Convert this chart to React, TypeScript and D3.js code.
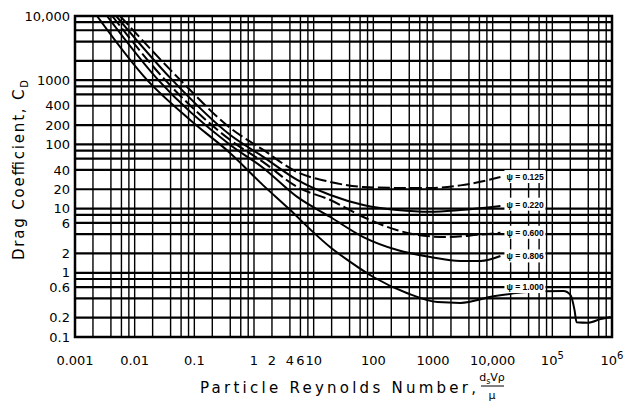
import * as d3 from "d3";

const width = 626;
const height = 408;
const margin = { top: 16, right: 14, bottom: 71, left: 75 };
const innerWidth = width - margin.left - margin.right;
const innerHeight = height - margin.top - margin.bottom;

// axis ticks
const reTicks = [0.001, 0.01, 0.1, 1, 2, 4, 6, 10, 100, 1000, 10000, 1e5, 1e6];
const reTickLabels = ["0.001", "0.01", "0.1", "1", "2", "4", "6", "10", "100", "1000", "10,000", "10^5", "10^6"];
const cdTicks = [10000, 1000, 400, 200, 100, 40, 20, 10, 6, 2, 1, 0.6, 0.2, 0.1];
const cdTickLabels = ["10,000", "1000", "400", "200", "100", "40", "20", "10", "6", "2", "1", "0.6", "0.2", "0.1"];
const gridSteps = [1, 2, 4, 6, 8];

// shape factor curves
const re125 = [0.0057, 0.058, 0.4, 1.43, 5.3, 19, 68, 284, 904, 2884, 13500];
const cd125 = [10000, 1010, 180, 82, 37, 26, 21.7, 21, 21, 23, 31];

const re220 = [0.0049, 0.0425, 0.4, 1.43, 5.3, 19, 68, 253, 904, 2884, 13500];
const cd220 = [10000, 1010, 140, 64, 28, 16.3, 11.4, 9.5, 8.9, 9.5, 11];

const re600 = [0.0042, 0.0324, 0.4, 1.43, 5.3, 19, 68, 253, 547, 1745, 5560, 13500];
const cd600 = [10000, 1010, 117, 53, 21.7, 13.6, 7.4, 4.6, 3.9, 3.6, 3.9, 4.2];

const re806 = [0.00344, 0.0247, 0.4, 1.43, 5.3, 19, 68, 253, 904, 2884, 6240, 13500];
const cd806 = [10000, 1010, 98, 43, 15.2, 7.4, 3.6, 2.26, 1.76, 1.53, 1.53, 1.83];

const re1000 = [0.00234, 0.0161, 0.085, 0.4, 1.43, 4.05, 9.8, 19, 41, 100, 372, 1186, 2884, 10300, 38400, 154000, 202000, 236000, 255000, 390000, 644000, 948000];
const cd1000 = [10000, 1010, 240, 73, 23, 9.5, 4.3, 2.5, 1.48, 0.86, 0.48, 0.35, 0.34, 0.43, 0.5, 0.52, 0.45, 0.26, 0.17, 0.167, 0.19, 0.205];

const psiLabels = ["0.125", "0.220", "0.600", "0.806", "1.000"];
const psiLabelCd = [31, 11.5, 4.2, 1.8, 0.6];
const psiLabelRe = 13500;

const series = [
  { re: re125, cd: cd125, dashed: true },
  { re: re220, cd: cd220, dashed: false },
  { re: re600, cd: cd600, dashed: true },
  { re: re806, cd: cd806, dashed: false },
  { re: re1000, cd: cd1000, dashed: false },
];

const font = "'DejaVu Sans', sans-serif";

const xScale = d3.scaleLog().domain([0.001, 1e6]).range([0, innerWidth]);
const yScale = d3.scaleLog().domain([0.1, 10000]).range([innerHeight, 0]);

const lineGen = d3
  .line<[number, number]>()
  .x((d) => xScale(d[0]))
  .y((d) => yScale(d[1]))
  .curve(d3.curveMonotoneX);

const xGrid: number[] = [];
for (let e = -3; e < 6; e++) gridSteps.forEach((s) => xGrid.push(s * Math.pow(10, e)));
const yGrid: number[] = [];
for (let e = -1; e < 4; e++) gridSteps.forEach((s) => yGrid.push(s * Math.pow(10, e)));

const tickText = (label: string) => {
  if (label.includes("^")) {
    const [base, exp] = label.split("^");
    return (
      <>
        {base}
        <tspan dy={-6} fontSize={10}>
          {exp}
        </tspan>
      </>
    );
  }
  return label;
};

export default function App() {
  return (
    <svg
      width={width}
      height={height}
      style={{ position: "absolute", left: 0, top: 0, background: "#fff" }}
      fontFamily={font}
    >
      <defs>
        <clipPath id="plot">
          <rect x={0} y={0} width={innerWidth} height={innerHeight} />
        </clipPath>
      </defs>
      <g transform={`translate(${margin.left},${margin.top})`}>
        {/* grid */}
        {xGrid.map((v, i) => (
          <line key={"x" + i} x1={xScale(v)} x2={xScale(v)} y1={0} y2={innerHeight} stroke="#000" strokeWidth={1.4} />
        ))}
        {yGrid.map((v, i) => (
          <line key={"y" + i} x1={0} x2={innerWidth} y1={yScale(v)} y2={yScale(v)} stroke="#000" strokeWidth={2.2} />
        ))}

        {/* curves */}
        <g clipPath="url(#plot)">
          {series.map((s, i) => (
            <path
              key={i}
              d={lineGen(s.re.map((r, j) => [r, s.cd[j]] as [number, number])) || ""}
              fill="none"
              stroke="#000"
              strokeWidth={2}
              strokeDasharray={s.dashed ? "12 4" : undefined}
            />
          ))}
        </g>

        {/* psi labels */}
        {psiLabels.map((p, i) => {
          const x = xScale(psiLabelRe) + 4;
          const y = yScale(psiLabelCd[i]);
          return (
            <g key={p}>
              <rect x={x} y={y - 7} width={41} height={13} fill="#fff" />
              <text x={x + 2} y={y} dy="0.35em" fontSize={8.5} fontWeight="bold" fontFamily="'Liberation Sans', sans-serif">
                {"ψ = " + p}
              </text>
            </g>
          );
        })}

        {/* frame */}
        <rect x={0} y={0} width={innerWidth} height={innerHeight} fill="none" stroke="#000" strokeWidth={2.5} />

        {/* y ticks */}
        {cdTicks.map((v, i) => (
          <text key={"yt" + i} x={-5} y={yScale(v)} dy="0.36em" textAnchor="end" fontSize={13}>
            {cdTickLabels[i]}
          </text>
        ))}
        {/* x ticks */}
        {reTicks.map((v, i) => (
          <text key={"xt" + i} x={xScale(v)} y={innerHeight + 28} textAnchor="middle" fontSize={13}>
            {tickText(reTickLabels[i])}
          </text>
        ))}
      </g>

      {/* y title */}
      <text
        transform="translate(24,170) rotate(-90)"
        textAnchor="middle"
        fontSize={15}
        textLength={180}
        lengthAdjust="spacing"
      >
        Drag Coefficient, C<tspan dy={4} fontSize={10}>D</tspan>
      </text>

      {/* x title */}
      <text x={200} y={393} fontSize={15} textLength={276} lengthAdjust="spacing">
        Particle Reynolds Number,
      </text>
      <text x={492} y={381} textAnchor="middle" fontSize={11}>
        d<tspan dy={3} fontSize={8}>s</tspan>
        <tspan dy={-3}>Vρ</tspan>
      </text>
      <line x1={481} x2={504} y1={386} y2={386} stroke="#000" strokeWidth={1} />
      <text x={492} y={399} textAnchor="middle" fontSize={11}>
        μ
      </text>
    </svg>
  );
}
